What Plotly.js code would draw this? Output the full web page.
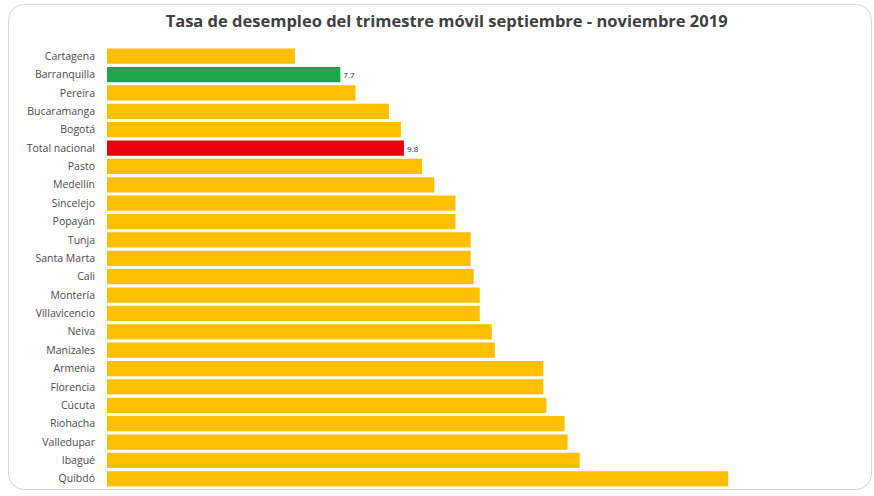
<!DOCTYPE html>
<html><head><meta charset="utf-8">
<script src="https://cdn.plot.ly/plotly-3.0.1.min.js"></script>
<style>
html,body{margin:0;padding:0;background:#fff;}
#wrap{position:relative;width:874px;height:496px;}
#plot{position:absolute;left:0;top:0;width:874px;height:496px;}
#frame{position:absolute;left:8px;top:4px;width:862px;height:484px;border:1.5px solid #d8d8d8;border-radius:16px;pointer-events:none;}
</style></head>
<body>
<div id="wrap"><div id="plot"></div><div id="frame"></div></div>
<script>
const categories = ["Cartagena","Barranquilla","Pereira","Bucaramanga","Bogotá","Total nacional","Pasto","Medellín","Sincelejo","Popayán","Tunja","Santa Marta","Cali","Montería","Villavicencio","Neiva","Manizales","Armenia","Florencia","Cúcuta","Riohacha","Valledupar","Ibagué","Quibdó"];
const values = [6.2,7.7,8.2,9.3,9.7,9.8,10.4,10.8,11.5,11.5,12.0,12.0,12.1,12.3,12.3,12.7,12.8,14.4,14.4,14.5,15.1,15.2,15.6,20.5];
const labels = ["","7.7","","","","9.8","","","","","","","","","","","","","","","","","",""];
const highlight = {"Barranquilla":"#1CA64C","Total nacional":"#E8000B"};
const baseColor = "#FDBF00";
const colors = categories.map(c => highlight[c] || baseColor);

Plotly.newPlot("plot", [{
  type: "bar",
  orientation: "h",
  y: categories,
  x: values,
  text: labels,
  textposition: "outside",
  cliponaxis: false,
  textfont: {family: "Open Sans, sans-serif", size: 8, color: "#333"},
  marker: {color: colors},
  hoverinfo: "none"
}], {
  width: 874, height: 496,
  margin: {l: 107, r: 14, t: 47, b: 8},
  paper_bgcolor: "rgba(0,0,0,0)",
  plot_bgcolor: "rgba(0,0,0,0)",
  bargap: 0.17,
  showlegend: false,
  title: {text: "<b>Tasa de desempleo del trimestre móvil septiembre - noviembre 2019</b>",
    font: {family: "Open Sans, sans-serif", size: 16.5, color: "#404040"},
    x: 0.511, xanchor: "center", y: 0.957, yanchor: "middle"},
  xaxis: {range: [0, 24.85], showgrid: false, zeroline: false, showticklabels: false, showline: false, fixedrange: true},
  yaxis: {type: "category", autorange: "reversed", showgrid: false, zeroline: false, showline: false,
    ticks: "", ticklabelstandoff: 11,
    tickfont: {family: "Open Sans, sans-serif", size: 10.5, color: "#4a4a4a"}}
}, {displayModeBar: false, staticPlot: true});
</script>
</body></html>
